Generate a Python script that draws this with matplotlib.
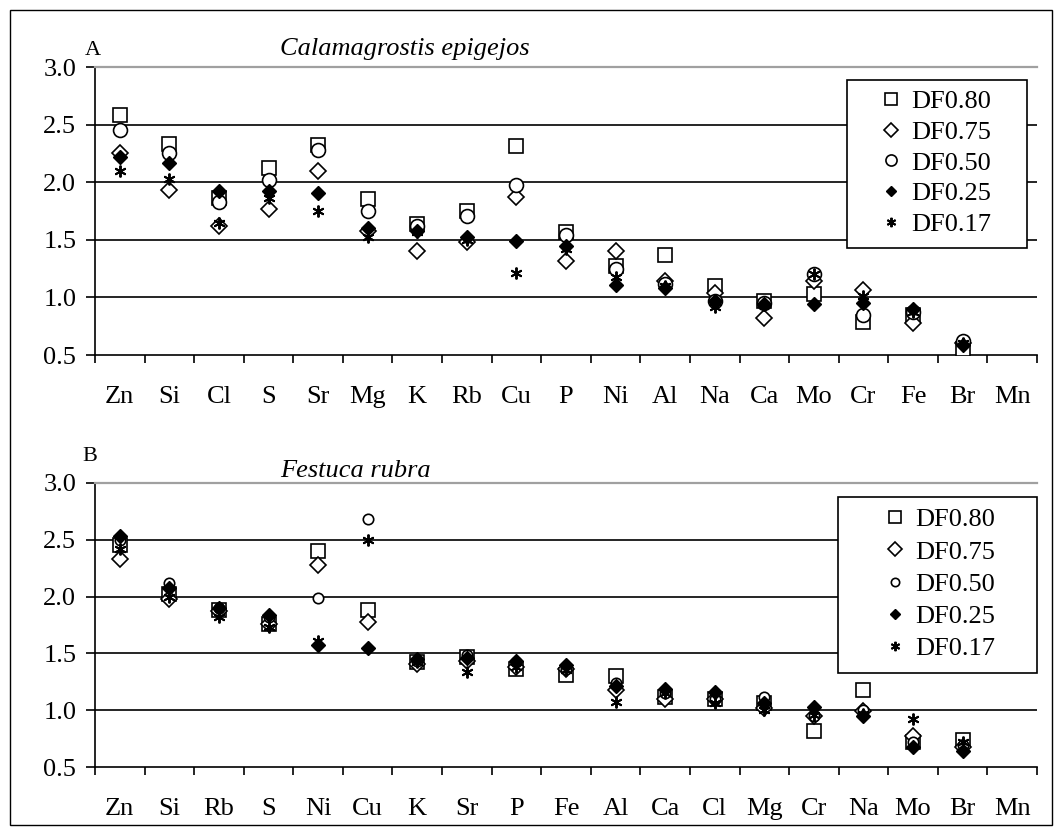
import numpy as np
import matplotlib
matplotlib.use("Agg")
import matplotlib.pyplot as plt
from matplotlib.patches import Rectangle

plt.rcParams['font.family'] = ['Liberation Serif', 'DejaVu Serif']

# panel A - Calamagrostis epigejos
elements_a = ["Zn", "Si", "Cl", "S", "Sr", "Mg", "K", "Rb", "Cu", "P",
              "Ni", "Al", "Na", "Ca", "Mo", "Cr", "Fe", "Br", "Mn"]
df080_a = [2.58, 2.33, 1.86, 2.12, 2.32, 1.85, 1.64, 1.75, 2.31, 1.57,
           1.27, 1.37, 1.10, 0.97, 1.03, 0.79, 0.85, 0.55, np.nan]
df075_a = [2.25, 1.93, 1.62, 1.77, 2.10, 1.58, 1.40, 1.48, 1.87, 1.32,
           1.40, 1.14, 1.04, 0.82, 1.14, 1.06, 0.78, 0.60, np.nan]
df050_a = [2.45, 2.25, 1.83, 2.02, 2.28, 1.75, 1.62, 1.71, 1.98, 1.54,
           1.25, 1.12, 0.97, 0.95, 1.20, 0.85, 0.87, 0.62, np.nan]
df025_a = [2.22, 2.17, 1.92, 1.92, 1.91, 1.60, 1.58, 1.52, 1.49, 1.45,
           1.11, 1.08, 0.97, 0.94, 0.94, 0.95, 0.90, 0.59, np.nan]
df017_a = [2.10, 2.03, 1.65, 1.86, 1.75, 1.52, 1.57, 1.50, 1.21, 1.42,
           1.18, 1.10, 0.92, 0.93, 1.20, 1.01, 0.87, 0.60, np.nan]

# panel B - Festuca rubra
elements_b = ["Zn", "Si", "Rb", "S", "Ni", "Cu", "K", "Sr", "P", "Fe",
              "Al", "Ca", "Cl", "Mg", "Cr", "Na", "Mo", "Br", "Mn"]
df080_b = [2.45, 2.02, 1.88, 1.76, 2.40, 1.88, 1.42, 1.47, 1.36, 1.31,
           1.30, 1.12, 1.10, 1.06, 0.82, 1.18, 0.72, 0.74, np.nan]
df075_b = [2.33, 1.98, 1.87, 1.76, 2.28, 1.78, 1.41, 1.43, 1.38, 1.36,
           1.18, 1.10, 1.10, 1.02, 0.95, 0.99, 0.77, 0.68, np.nan]
df050_b = [2.50, 2.12, 1.90, 1.82, 1.99, 2.68, 1.43, 1.49, 1.42, 1.36,
           1.24, 1.15, 1.10, 1.12, 0.95, 1.00, 0.72, 0.69, np.nan]
df025_b = [2.53, 2.08, 1.90, 1.84, 1.57, 1.55, 1.45, 1.46, 1.43, 1.40,
           1.21, 1.19, 1.16, 1.06, 1.03, 0.95, 0.68, 0.64, np.nan]
df017_b = [2.42, 2.00, 1.82, 1.73, 1.61, 2.50, 1.42, 1.34, 1.38, 1.35,
           1.07, 1.15, 1.06, 1.00, 0.96, 0.97, 0.92, 0.72, np.nan]

labels = ["DF0.80", "DF0.75", "DF0.50", "DF0.25", "DF0.17"]
yticks = [0.5, 1.0, 1.5, 2.0, 2.5, 3.0]

FS = 19
W, H = 1064, 835
fig = plt.figure(figsize=(W / 100, H / 100), dpi=100)


def px(x0, y0, x1, y1):
    # pixel box -> figure fraction [left, bottom, width, height]
    return [x0 / W, 1 - y1 / H, (x1 - x0) / W, (y1 - y0) / H]


def panel(ax, cats, series, circ_size, box, leg_xy, spacing):
    x = np.arange(len(cats))
    styles = [
        dict(marker='s', ms=10, mfc='white', mec='black', mew=1.2),
        dict(marker='D', ms=8.5, mfc='white', mec='black', mew=1.2),
        dict(marker='o', ms=circ_size, mfc='white', mec='black', mew=1.2),
        dict(marker='D', ms=7.0, mfc='black', mec='black', mew=1.0),
        dict(marker=(6, 2, 0), ms=8.5, mfc='black', mec='black', mew=1.4),
    ]
    handles = []
    for vals, st, lab in zip(series, styles, labels):
        h, = ax.plot(x, vals, linestyle='none', label=lab, zorder=3, **st)
        handles.append(h)

    ax.set_xlim(-0.5, len(cats) - 0.5)
    ax.set_ylim(0.5, 3.0)
    ax.set_yticks(yticks)
    ax.set_yticklabels([f"{v:.1f}" for v in yticks], fontsize=FS)
    for v in yticks[1:-1]:
        ax.axhline(v, color='black', lw=1.2, zorder=1)

    ax.set_xticks(np.arange(-0.5, len(cats), 1.0))
    ax.set_xticklabels([])
    ax.set_xticks(x, minor=True)
    ax.set_xticklabels(cats, minor=True, fontsize=FS)
    ax.tick_params(axis='x', which='major', direction='out', length=6,
                   width=1.2)
    ax.tick_params(axis='x', which='minor', length=0, pad=22)
    ax.tick_params(axis='y', direction='out', length=6.5, width=1.2, pad=7)

    ax.spines['right'].set_visible(False)
    ax.spines['top'].set_color('#a0a0a0')
    ax.spines['top'].set_linewidth(1.6)
    ax.spines['left'].set_linewidth(1.2)
    ax.spines['bottom'].set_linewidth(1.2)

    # legend box drawn as a white rectangle, legend itself frameless
    x0, y0, x1, y1 = box
    ax.add_patch(Rectangle((x0 / W, 1 - y1 / H), (x1 - x0) / W,
                           (y1 - y0) / H, transform=fig.transFigure,
                           facecolor='white', edgecolor='black', lw=1.2,
                           zorder=4, clip_on=False))
    ax.legend(handles=handles, loc='upper left',
              bbox_to_anchor=(leg_xy[0] / W, 1 - leg_xy[1] / H),
              bbox_transform=fig.transFigure,
              fontsize=FS, frameon=False, handlelength=1.0,
              handletextpad=0.25, labelspacing=spacing,
              borderpad=0, borderaxespad=0, markerscale=0.8)


ax_a = fig.add_axes(px(95, 67, 1037, 355))
panel(ax_a, elements_a, [df080_a, df075_a, df050_a, df025_a, df017_a], 10,
      (847, 80, 1027, 248), (878, 90), 0.27)
ax_b = fig.add_axes(px(95, 483, 1037, 767))
panel(ax_b, elements_b, [df080_b, df075_b, df050_b, df025_b, df017_b], 7.5,
      (838, 497, 1037, 673), (882, 508), 0.33)

fig.text(85 / W, 1 - 55 / H, "A", fontsize=16, va='baseline', ha='left')
fig.text(280 / W, 1 - 55 / H, "Calamagrostis epigejos", fontsize=FS,
         style='italic', va='baseline', ha='left')
fig.text(82 / W, 1 - 461 / H, "B", fontsize=16, va='baseline', ha='left')
fig.text(280 / W, 1 - 477 / H, "Festuca rubra", fontsize=FS,
         style='italic', va='baseline', ha='left')

fig.patches.append(Rectangle((10 / W, 1 - 825 / H), 1042 / W, 815 / H,
                             transform=fig.transFigure, fill=False,
                             edgecolor='black', lw=1.0))

fig.savefig("out.png", dpi=100)
